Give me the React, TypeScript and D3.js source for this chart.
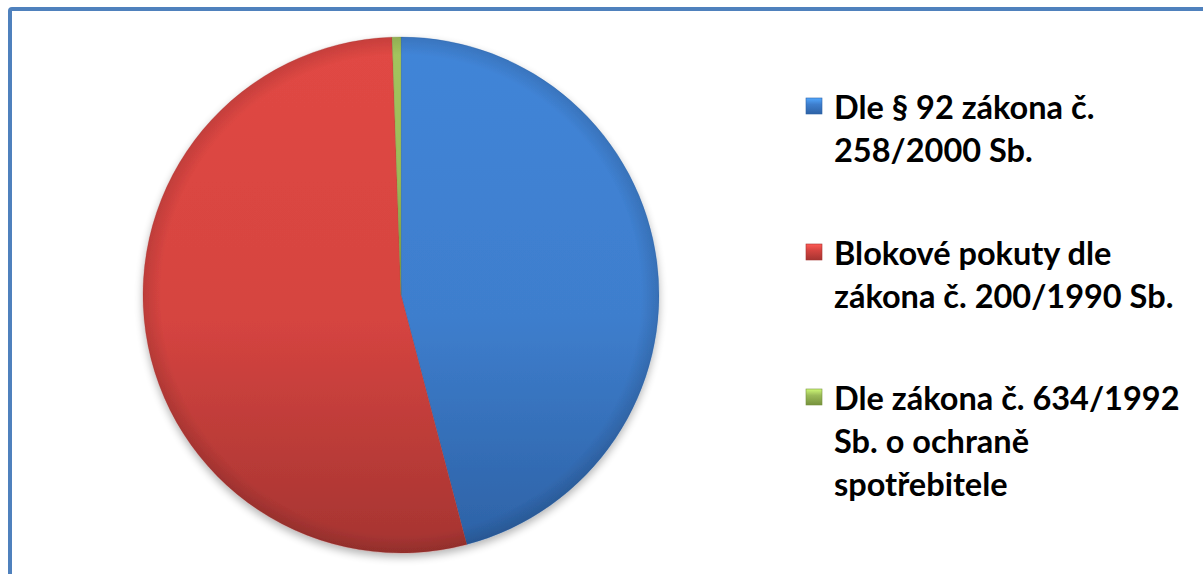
import React, { useRef, useEffect } from 'react';
import * as d3 from 'd3';

const categories = [
  'Dle § 92 zákona č. 258/2000 Sb.',
  'Blokové pokuty dle zákona č. 200/1990 Sb.',
  'Dle zákona č. 634/1992 Sb. o ochraně spotřebitele',
];
const values = [45.9, 53.55, 0.55];
const legendLines = [
  ['Dle § 92 zákona č.', '258/2000 Sb.'],
  ['Blokové pokuty dle', 'zákona č. 200/1990 Sb.'],
  ['Dle zákona č. 634/1992', 'Sb. o ochraně', 'spotřebitele'],
];
const colors = ['#3e7ecd', '#d54440', '#9bbb59'];
const darkColors = ['#2d62a6', '#a53431', '#76923c'];

function PieChart() {
  const ref = useRef<SVGSVGElement>(null);
  const WIDTH = 1203;
  const HEIGHT = 574;
  const CX = 401;
  const CY = 295;
  const R = 258;

  useEffect(() => {
    const svg = d3.select(ref.current).attr('width', WIDTH).attr('height', HEIGHT);
    svg.selectAll('*').remove();

    const defs = svg.append('defs');
    categories.forEach((_, i) => {
      const g = defs
        .append('linearGradient')
        .attr('id', 'lg' + i)
        .attr('x1', 0).attr('y1', 0).attr('x2', 0).attr('y2', 1);
      g.append('stop').attr('offset', '0%').attr('stop-color', d3.color(colors[i])!.brighter(0.15).formatHex());
      g.append('stop').attr('offset', '55%').attr('stop-color', colors[i]);
      g.append('stop').attr('offset', '100%').attr('stop-color', darkColors[i]);
      const m = defs
        .append('linearGradient')
        .attr('id', 'mk' + i)
        .attr('x1', 0).attr('y1', 0).attr('x2', 0).attr('y2', 1);
      m.append('stop').attr('offset', '0%').attr('stop-color', d3.color(colors[i])!.brighter(0.8).formatHex());
      m.append('stop').attr('offset', '40%').attr('stop-color', colors[i]);
      m.append('stop').attr('offset', '100%').attr('stop-color', darkColors[i]);
    });
    const rim = defs.append('radialGradient').attr('id', 'rim').attr('cx', '50%').attr('cy', '50%').attr('r', '50%');
    rim.append('stop').attr('offset', '93%').attr('stop-color', '#000').attr('stop-opacity', 0);
    rim.append('stop').attr('offset', '100%').attr('stop-color', '#000').attr('stop-opacity', 0.12);
    const shadow = defs.append('filter').attr('id', 'shadow').attr('x', '-10%').attr('y', '-10%').attr('width', '120%').attr('height', '125%');
    shadow.append('feGaussianBlur').attr('in', 'SourceAlpha').attr('stdDeviation', 4);
    shadow.append('feOffset').attr('dx', 0).attr('dy', 4).attr('result', 'b');
    shadow.append('feComponentTransfer').append('feFuncA').attr('type', 'linear').attr('slope', 0.3);
    const merge = shadow.append('feMerge');
    merge.append('feMergeNode');
    merge.append('feMergeNode').attr('in', 'SourceGraphic');

    // frame
    svg
      .append('rect')
      .attr('x', 10).attr('y', 9)
      .attr('width', WIDTH + 20).attr('height', HEIGHT + 20)
      .attr('rx', 2)
      .attr('fill', '#fff')
      .attr('stroke', '#4f81bd')
      .attr('stroke-width', 4);

    const pie = d3.pie<number>().sort(null).value(d => d);
    const arc = d3.arc<d3.PieArcDatum<number>>().innerRadius(0).outerRadius(R);
    const arcs = pie(values);

    const g = svg.append('g').attr('transform', `translate(${CX},${CY})`).attr('filter', 'url(#shadow)');
    g.selectAll('path.slice')
      .data(arcs)
      .join('path')
      .attr('class', 'slice')
      .attr('d', arc)
      .attr('fill', (_, i) => `url(#lg${i})`)
      .attr('stroke', (_, i) => darkColors[i])
      .attr('stroke-opacity', 0.35)
      .attr('stroke-width', 0.8);
    g.append('circle').attr('r', R).attr('fill', 'url(#rim)');

    // legend
    const legend = svg.append('g').attr('font-family', 'Lato, "Open Sans", sans-serif').attr('font-weight', 'bold').attr('font-size', 32.5);
    const blockTops = [106, 252, 397];
    legendLines.forEach((lines, i) => {
      legend
        .append('rect')
        .attr('x', 806).attr('y', blockTops[i] - 8)
        .attr('width', 16).attr('height', 16)
        .attr('fill', `url(#mk${i})`)
        .attr('stroke', darkColors[i])
        .attr('stroke-width', 0.6);
      lines.forEach((line, j) => {
        legend
          .append('text')
          .attr('x', 834)
          .attr('y', blockTops[i] + j * 43)
          .attr('dominant-baseline', 'central')
          .attr('fill', '#000')
          .text(line);
      });
    });
  }, []);

  return <svg ref={ref} style={{ position: 'absolute', left: 0, top: 0 }}></svg>;
}

export default function App() {
  return <PieChart />;
}
